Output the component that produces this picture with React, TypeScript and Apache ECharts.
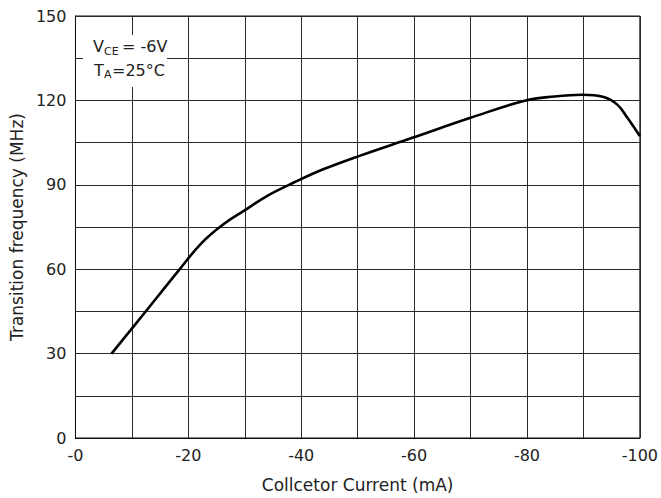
import React, { useEffect, useRef } from "react";
import * as echarts from "echarts";

// Collector current (mA) and transition frequency (MHz)
const currentMA = [-6.4, -12.3, -18.2, -22.3, -26.1, -29.9, -34, -38.7, -43.9, -50.2, -59.7, -70, -79.6, -84.9, -89.8, -93.6, -96, -97.8, -100];
const freqMHz = [30, 44.6, 59.3, 69.2, 75.8, 80.8, 86.1, 90.8, 95.5, 100.2, 106.7, 113.8, 119.9, 121.4, 122, 121.2, 118.5, 113.8, 107.3];

const xTitle = "Collcetor Current (mA)";
const yTitle = "Transition frequency (MHz)";
const FONT = "DejaVu Sans";

export default function App() {
  const ref = useRef<HTMLDivElement>(null);
  useEffect(() => {
    if (!ref.current) return;
    const chart = echarts.init(ref.current, undefined, { renderer: "svg" });
    const data = currentMA.map((x, i) => [x, freqMHz[i]]);
    const txt = (text: string, x: number, y: number, size: number) => ({
      type: "text",
      x,
      y,
      style: { text, fontFamily: FONT, fontSize: size, fill: "#222", verticalAlign: "middle", align: "left" },
      z: 101,
    });
    chart.setOption({
      animation: false,
      backgroundColor: "#fff",
      grid: { left: 72.5, right: 18, top: 16, bottom: 58, show: true, borderColor: "#111", borderWidth: 1 },
      xAxis: {
        type: "value",
        min: -100,
        max: 0,
        interval: 10,
        inverse: true,
        name: xTitle,
        nameLocation: "middle",
        nameGap: 38,
        nameTextStyle: { fontFamily: FONT, fontSize: 17, color: "#222" },
        axisLine: { show: true, onZero: false, lineStyle: { color: "#111", width: 1 } },
        axisTick: { show: false },
        axisLabel: {
          fontFamily: FONT,
          fontSize: 16,
          color: "#222",
          margin: 9,
          formatter: (v: number) => (Math.round(v) % 20 === 0 ? (v === 0 ? "-0" : String(v)) : ""),
        },
        splitLine: { show: true, lineStyle: { color: "#2a2a2a", width: 1 } },
      },
      yAxis: {
        type: "value",
        min: 0,
        max: 150,
        interval: 15,
        name: yTitle,
        nameLocation: "middle",
        nameGap: 42,
        nameTextStyle: { fontFamily: FONT, fontSize: 17, color: "#222" },
        axisLine: { show: true, lineStyle: { color: "#111", width: 1 } },
        axisTick: { show: false },
        axisLabel: {
          fontFamily: FONT,
          fontSize: 16,
          color: "#222",
          margin: 9,
          formatter: (v: number) => (Math.round(v) % 30 === 0 ? String(v) : ""),
        },
        splitLine: { show: true, lineStyle: { color: "#2a2a2a", width: 1 } },
      },
      series: [
        {
          type: "line",
          data,
          smooth: 0.4,
          showSymbol: false,
          lineStyle: { color: "#000", width: 2.6 },
          z: 5,
        },
      ],
      graphic: [
        {
          type: "rect",
          shape: { x: 83, y: 35, width: 84, height: 52 },
          style: { fill: "#fff" },
          z: 100,
        },
        txt("V", 93, 46, 16),
        txt("CE", 104, 51.5, 11),
        txt("= -6V", 122, 46, 16),
        txt("T", 94, 70, 16),
        txt("A", 104, 74.5, 11),
        txt("=25°C", 112, 70, 16),
      ],
    });
    return () => chart.dispose();
  }, []);
  return (
    <div
      ref={ref}
      style={{ position: "fixed", left: 0, top: 0, width: 661, height: 498 }}
    />
  );
}
